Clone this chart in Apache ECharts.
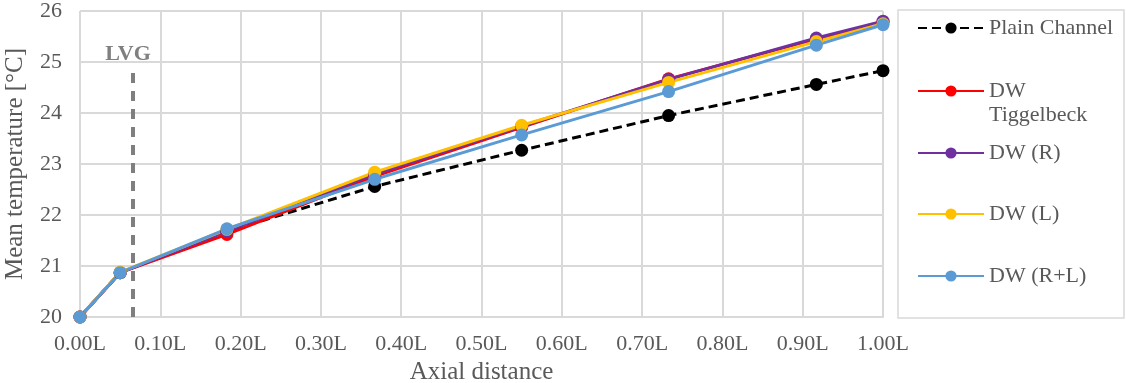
<!DOCTYPE html>
<html>
<head>
<meta charset="utf-8">
<script src="https://cdn.jsdelivr.net/npm/echarts@6/dist/echarts.min.js"></script>
<style>
* { margin: 0; padding: 0; }
body { background: #fff; }
</style>
</head>
<body>
<!-- container for the chart -->
<div id="main" style="width:1126px;height:383px;background:white;"></div>
<script>
// axial positions (fraction of L)
var axialPos = [0, 0.05, 0.183, 0.367, 0.55, 0.733, 0.917, 1.0];
var seriesNames = ["Plain Channel", "DW Tiggelbeck", "DW (R)", "DW (L)", "DW (R+L)"];
var plainChannel = [20.0, 20.87, 21.68, 22.56, 23.27, 23.95, 24.56, 24.83];
var dwTiggelbeck = [20.0, 20.87, 21.62, 22.76, 23.72, 24.67, 25.45, 25.78];
var dwR = [20.0, 20.87, 21.68, 22.80, 23.74, 24.66, 25.47, 25.80];
var dwL = [20.0, 20.88, 21.72, 22.84, 23.76, 24.60, 25.40, 25.75];
var dwRL = [20.0, 20.87, 21.73, 22.70, 23.57, 24.42, 25.33, 25.73];
var lvgPos = 0.066;

var textGray = "#595959";
var serif = "Liberation Serif";

function pairs(vals) {
  return axialPos.map(function (x, i) { return [x, vals[i]]; });
}

function lineSeries(name, vals, color, dashed) {
  return {
    name: name,
    type: "line",
    data: pairs(vals),
    symbol: "circle",
    symbolSize: 13,
    itemStyle: { color: color },
    lineStyle: { color: color, width: 3, type: dashed ? [9, 5] : "solid" },
    emphasis: { disabled: true },
    z: 3
  };
}

// one legend per entry so the spacing matches the box
var legendTops = [27, 90, 152, 213, 275];
var legends = seriesNames.map(function (n, i) {
  return {
    data: [n],
    left: 917,
    top: legendTops[i] - 10,
    padding: 0,
    itemWidth: 66,
    itemHeight: 14,
    formatter: function (name) { return name === "DW Tiggelbeck" ? "DW" : name; },
    textStyle: { color: textGray, fontFamily: serif, fontSize: 22, lineHeight: 14 }
  };
});

var chart = echarts.init(document.getElementById("main"));
var s0 = lineSeries(seriesNames[0], plainChannel, "#000000", true);
s0.markLine = {
  silent: true,
  symbol: "none",
  lineStyle: { color: "#7f7f7f", width: 4, type: [10, 8] },
  label: {
    show: true, position: "end", formatter: "LVG", distance: 2, offset: [-5, 0],
    color: "#7f7f7f", fontFamily: serif, fontWeight: "bold", fontSize: 22
  },
  data: [[{ coord: [lvgPos, 20] }, { coord: [lvgPos, 24.9] }]]
};

chart.setOption({
  animation: false,
  legend: legends,
  grid: { left: 80, right: 243, top: 11, bottom: 66, outerBoundsMode: "none", containLabel: false },
  xAxis: {
    type: "value",
    min: 0, max: 1, interval: 0.1,
    name: "Axial distance",
    nameLocation: "middle",
    nameGap: 43,
    nameTextStyle: { color: textGray, fontFamily: serif, fontSize: 25 },
    axisLine: { lineStyle: { color: "#d9d9d9", width: 2 } },
    axisTick: { show: false },
    axisLabel: {
      color: textGray, fontFamily: serif, fontSize: 22, margin: 16,
      formatter: function (v) { return v.toFixed(2) + "L"; }
    },
    splitLine: { lineStyle: { color: "#d9d9d9", width: 2 } }
  },
  yAxis: {
    type: "value",
    min: 20, max: 26, interval: 1,
    name: "Mean temperature [°C]",
    nameLocation: "middle",
    nameGap: 52,
    nameTextStyle: { color: textGray, fontFamily: serif, fontSize: 25 },
    axisLine: { show: false },
    axisTick: { show: false },
    axisLabel: { color: textGray, fontFamily: serif, fontSize: 22, margin: 18 },
    splitLine: { lineStyle: { color: "#d9d9d9", width: 2 } }
  },
  graphic: [
    {
      type: "rect",
      shape: { x: 898, y: 10, width: 226, height: 308 },
      style: { fill: "none", stroke: "#d9d9d9", lineWidth: 1.5 }
    },
    {
      type: "text",
      left: 989, top: 104,
      style: { text: "Tiggelbeck", fill: textGray, font: "22px 'Liberation Serif'" }
    }
  ],
  series: [
    s0,
    lineSeries(seriesNames[1], dwTiggelbeck, "#ff0000", false),
    lineSeries(seriesNames[2], dwR, "#7030a0", false),
    lineSeries(seriesNames[3], dwL, "#ffc000", false),
    lineSeries(seriesNames[4], dwRL, "#5b9bd5", false)
  ]
});
</script>
</body>
</html>
